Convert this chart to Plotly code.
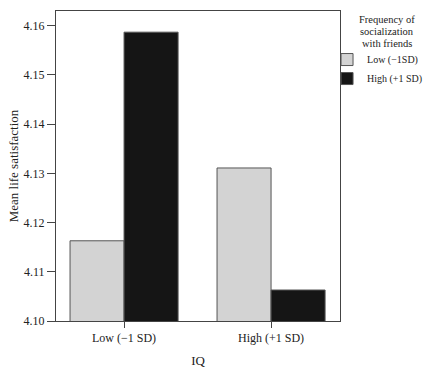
import plotly.graph_objects as go

categories = ["Low (\u22121 SD)", "High (+1 SD)"]
series_names = ["Low (\u22121SD)", "High (+1 SD)"]
low_social = [4.1163, 4.1311]
high_social = [4.1587, 4.1063]
y_ticks = [4.10, 4.11, 4.12, 4.13, 4.14, 4.15, 4.16]
y_tick_labels = ["4.10", "4.11", "4.12", "4.13", "4.14", "4.15", "4.16"]
legend_title_lines = ["Frequency of", "socialization", "with friends"]

FONT = "Liberation Serif, Times New Roman, serif"
TXT = "#222222"
AX = "#444444"

fig = go.Figure()
fig.add_trace(go.Bar(x=categories, y=low_social, name=series_names[0],
                     marker=dict(color="#d3d3d3", line=dict(color="#555555", width=1))))
fig.add_trace(go.Bar(x=categories, y=high_social, name=series_names[1],
                     marker=dict(color="#151515", line=dict(color="#555555", width=1))))

title_y = [0.971, 0.9324, 0.8937]
annotations = [dict(text=t, xref="paper", yref="paper", x=1.165, y=yy,
                    xanchor="center", yanchor="middle", showarrow=False,
                    font=dict(size=10.5, family=FONT, color=TXT))
               for t, yy in zip(legend_title_lines, title_y)]

fig.update_layout(
    width=426, height=374,
    margin=dict(l=56, r=86, t=11, b=52.5, pad=0, autoexpand=False),
    paper_bgcolor="white", plot_bgcolor="white",
    barmode="group", bargap=0.265, bargroupgap=0,
    font=dict(family=FONT, color=TXT, size=12),
    showlegend=True,
    legend=dict(x=1.31, xanchor="right", y=0.8902, yanchor="top",
                font=dict(size=10, family=FONT, color=TXT),
                itemwidth=30, tracegroupgap=0, bgcolor="rgba(0,0,0,0)"),
    annotations=annotations,
)
fig.update_xaxes(range=[-0.463, 1.469], showline=True, linecolor=AX, linewidth=1,
                 mirror=True, ticks="outside", ticklen=6, tickcolor=AX,
                 showgrid=False, zeroline=False, automargin=False,
                 title=dict(text="IQ", font=dict(size=13, family=FONT, color=TXT), standoff=11),
                 tickfont=dict(size=12, family=FONT, color=TXT))
fig.update_yaxes(range=[4.10, 4.163], showline=True, linecolor=AX, linewidth=1,
                 mirror=True, ticks="outside", ticklen=8, tickcolor=AX,
                 tickvals=y_ticks, ticktext=y_tick_labels,
                 showgrid=False, zeroline=False, automargin=False,
                 title=dict(text="Mean life satisfaction", font=dict(size=13, family=FONT, color=TXT), standoff=2),
                 tickfont=dict(size=12, family=FONT, color=TXT))

fig.write_html("out.html", config={"displayModeBar": False},
               post_script="document.body.style.margin='0px';")
